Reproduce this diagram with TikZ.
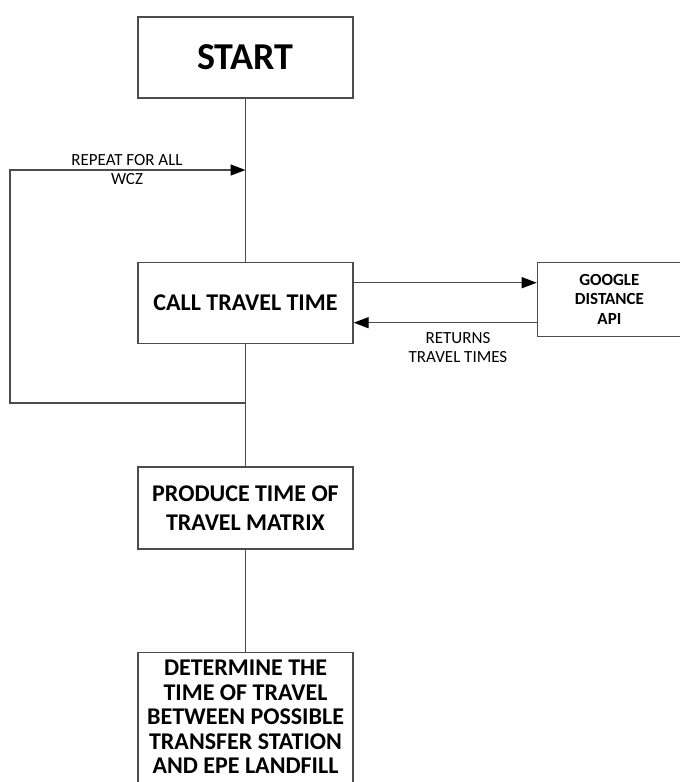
\documentclass[tikz,border=0pt]{standalone}
\usepackage{fontspec}
\setmainfont{Carlito}
\usepackage{tikz}
\usetikzlibrary{positioning,arrows.meta}

\begin{document}
\begin{tikzpicture}[x=0.5pt,y=-0.5pt,>={Triangle[length=7.5pt,width=5.5pt,color=black]}
        ,line/.style = {draw=black!70,line width=0.7pt}
        ,block/.style = {line,rectangle,align=center,
          font=\fontsize{12}{14.5}\selectfont\bfseries,
          minimum width=107.5pt,minimum height=40.5pt,inner sep=2pt}
        ,note/.style = {align=center,font=\fontsize{8.5}{9.5}\selectfont,inner sep=0pt}
      ]
      \useasboundingbox (0,0) rectangle (680,782);

      \node[block,font=\fontsize{19}{22}\selectfont\bfseries](start) at (245.5,57.5) {START};
      \node[block,below=81.5pt of start](call) {CALL TRAVEL TIME};
      \node[block,below=61pt of call,minimum height=41pt](produce) {PRODUCE TIME OF\\TRAVEL MATRIX};
      \node[block,below=51pt of produce,anchor=north,inner ysep=4pt,text depth=20pt,
        font=\fontsize{12}{12.25}\selectfont\bfseries](determine) {DETERMINE THE\\TIME OF TRAVEL\\BETWEEN POSSIBLE\\TRANSFER STATION\\AND EPE LANDFILL};
      \node[block,right=91.5pt of call.north east,anchor=north west,minimum width=72pt,minimum height=37pt,
        font=\fontsize{8.5}{9.75}\selectfont\bfseries](google) {GOOGLE\\DISTANCE\\API};

      \coordinate (fork) at (call.south |- 0,403);
      \coordinate (corner) at (10,170);
      \coordinate (join) at (call.north |- corner);
      \coordinate (out) at ([yshift=-10.5pt]call.north east);
      \coordinate (back) at ([yshift=-30.5pt]google.north west);

      \draw[line] (start) -- (call);
      \draw[line] (call) -- (produce);
      \draw[line] (produce) -- (determine);
      \draw[line,->] (fork) -| (corner) -- (join);
      \draw[line,->] (out) -- (google.west |- out);
      \draw[line,->] (back) -- (call.east |- back);

      \node[note](repeat) at (127,169.5) {REPEAT FOR ALL\\WCZ};
      \node[note](returns) at (458,348) {RETURNS\\TRAVEL TIMES};
    \end{tikzpicture}
\end{document}
